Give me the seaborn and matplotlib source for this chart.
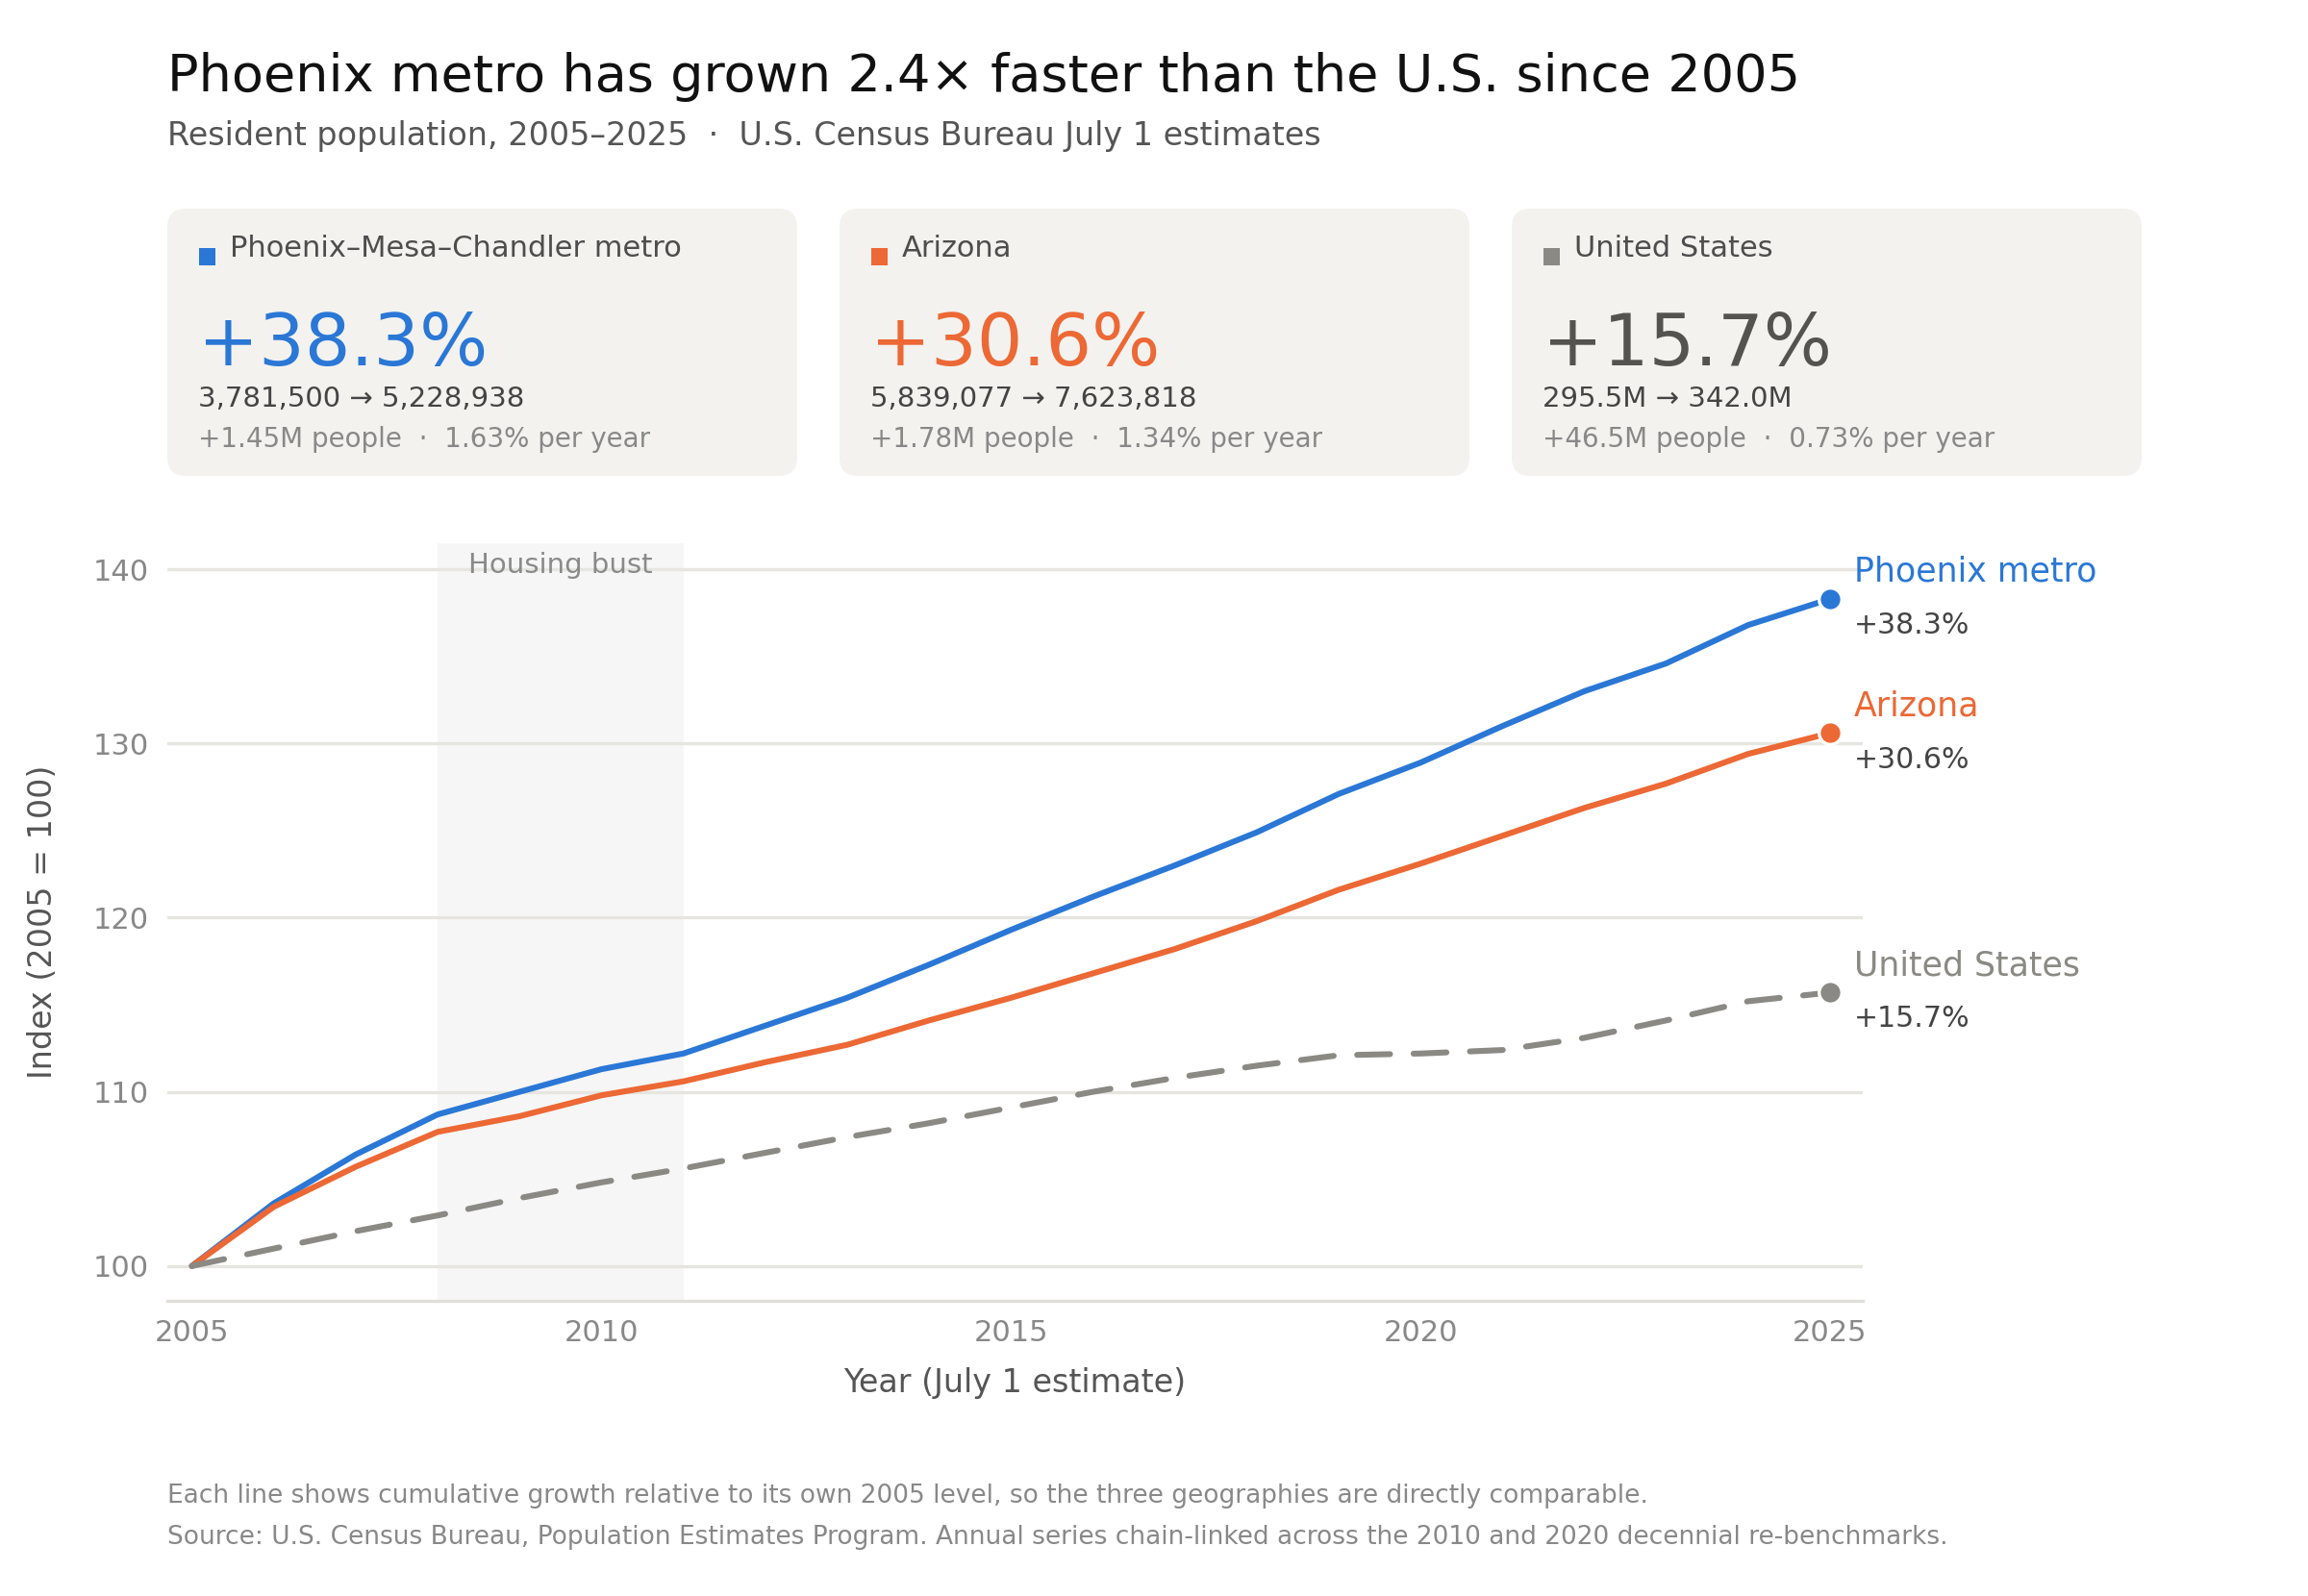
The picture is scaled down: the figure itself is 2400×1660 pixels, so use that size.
import pandas as pd
import matplotlib
matplotlib.use("Agg")
import matplotlib.pyplot as plt
from matplotlib.patches import FancyBboxPatch, Rectangle
import seaborn as sns

# Index values (2005 = 100)
years = list(range(2005, 2026))
phoenix = [100.0, 103.6, 106.4, 108.7, 110.0, 111.3, 112.2, 113.8, 115.4, 117.3, 119.3,
           121.2, 123.0, 124.9, 127.1, 128.9, 131.0, 133.0, 134.6, 136.8, 138.3]
arizona = [100.0, 103.4, 105.7, 107.7, 108.6, 109.8, 110.6, 111.7, 112.7, 114.1, 115.4,
           116.8, 118.2, 119.8, 121.6, 123.1, 124.7, 126.3, 127.7, 129.4, 130.6]
us = [100.0, 101.0, 102.0, 102.9, 103.9, 104.8, 105.6, 106.5, 107.4, 108.2, 109.1,
      110.0, 110.8, 111.5, 112.1, 112.2, 112.4, 113.1, 114.1, 115.2, 115.7]

series_names = ["Phoenix metro", "Arizona", "United States"]
series_colors = ["#2a77d6", "#ec6834", "#8a8984"]
end_pcts = ["+38.3%", "+30.6%", "+15.7%"]

card_titles = ["Phoenix–Mesa–Chandler metro", "Arizona", "United States"]
card_growth = ["+38.3%", "+30.6%", "+15.7%"]
card_growth_colors = ["#2a77d6", "#ec6834", "#55534f"]
card_range = ["3,781,500 → 5,228,938", "5,839,077 → 7,623,818", "295.5M → 342.0M"]
card_detail = ["+1.45M people  ·  1.63% per year",
               "+1.78M people  ·  1.34% per year",
               "+46.5M people  ·  0.73% per year"]

bust_start, bust_end = 2008, 2011

df = pd.DataFrame({
    "year": years * 3,
    "index": phoenix + arizona + us,
    "series": [series_names[0]] * len(years) + [series_names[1]] * len(years)
              + [series_names[2]] * len(years),
})

sns.set_theme(style="white")
plt.rcParams["font.family"] = ["DejaVu Sans"]
plt.rcParams["lines.dash_capstyle"] = "round"

W, H = 2400, 1660
fig = plt.figure(figsize=(12, 8.3), dpi=200)


def fx(x):
    return x / W


def fy(y):
    return 1 - y / H


# title block
fig.text(fx(174), fy(95), "Phoenix metro has grown 2.4× faster than the U.S. since 2005",
         fontsize=19.5, color="#111111", va="baseline")
fig.text(fx(174), fy(151), "Resident population, 2005–2025  ·  U.S. Census Bureau July 1 estimates",
         fontsize=12, color="#555555", va="baseline")

# summary cards
card_left = [174, 873, 1572]
card_w = 655
for i in range(3):
    x0 = card_left[i]
    box = FancyBboxPatch((fx(x0), fy(495)), fx(card_w), (495 - 217) / H,
                         boxstyle="round,pad=0,rounding_size=0.008",
                         mutation_aspect=W / H, transform=fig.transFigure,
                         facecolor="#f3f2ef", edgecolor="none")
    fig.add_artist(box)
    fig.add_artist(Rectangle((fx(x0 + 33), fy(276)), fx(17), 18 / H,
                             transform=fig.transFigure, facecolor=series_colors[i],
                             edgecolor="none"))
    fig.text(fx(x0 + 65), fy(267), card_titles[i], fontsize=11, color="#4d4d4d", va="baseline")
    fig.text(fx(x0 + 32), fy(380), card_growth[i], fontsize=27, color=card_growth_colors[i],
             va="baseline")
    fig.text(fx(x0 + 32), fy(423), card_range[i], fontsize=10.5, color="#444444", va="baseline")
    fig.text(fx(x0 + 32), fy(465), card_detail[i], fontsize=10, color="#888888", va="baseline")

# main chart
ax = fig.add_axes([fx(174), fy(1353), (1937 - 174) / W, (1353 - 565) / H])
ax.axvspan(bust_start, bust_end, color="#f6f6f6", zorder=0, lw=0)
ax.text((bust_start + bust_end) / 2, 141.0, "Housing bust", ha="center", va="top",
        fontsize=10.5, color="#8a8a8a")

sns.lineplot(data=df, x="year", y="index", hue="series", style="series",
             palette=dict(zip(series_names, series_colors)),
             dashes={series_names[0]: "", series_names[1]: "", series_names[2]: (5.6, 4.0)},
             linewidth=2.2, legend=False, ax=ax, zorder=3)

last_vals = [phoenix[-1], arizona[-1], us[-1]]
for name, color, val, pct in zip(series_names, series_colors, last_vals, end_pcts):
    ax.plot([years[-1]], [val], marker="o", ms=8.5, color=color, mec="white", mew=1.2,
            zorder=5, clip_on=False)
    ax.annotate(name, (years[-1], val), xytext=(9, 6.5), textcoords="offset points",
                fontsize=12.5, color=color, va="baseline", ha="left", annotation_clip=False)
    ax.annotate(pct, (years[-1], val), xytext=(9, -13), textcoords="offset points",
                fontsize=10.8, color="#444444", va="baseline", ha="left", annotation_clip=False)

ax.set_xlim(2004.7, 2025.4)
ax.set_ylim(98.0, 141.5)
ax.set_xticks([2005, 2010, 2015, 2020, 2025])
ax.set_yticks([100, 110, 120, 130, 140])
ax.yaxis.grid(True, color="#e6e5e0", lw=1.2)
ax.xaxis.grid(False)
ax.set_axisbelow(True)
for side in ["left", "right", "top"]:
    ax.spines[side].set_visible(False)
ax.spines["bottom"].set_color("#e0dfda")
ax.spines["bottom"].set_linewidth(1.2)
ax.tick_params(axis="both", length=0, labelsize=11, labelcolor="#888888")
ax.tick_params(axis="y", pad=7)
ax.tick_params(axis="x", pad=7)
ax.set_xlabel("Year (July 1 estimate)", fontsize=12, color="#555555")
ax.set_ylabel("Index (2005 = 100)", fontsize=12, color="#555555")
ax.xaxis.set_label_coords(0.5, -0.088)
ax.yaxis.set_label_coords(-0.064, 0.5)

# footer
fig.text(fx(174), fy(1563),
         "Each line shows cumulative growth relative to its own 2005 level, so the three geographies are directly comparable.",
         fontsize=9.5, color="#888888", va="baseline")
fig.text(fx(174), fy(1606),
         "Source: U.S. Census Bureau, Population Estimates Program. Annual series chain-linked across the 2010 and 2020 decennial re-benchmarks.",
         fontsize=9.5, color="#888888", va="baseline")

fig.savefig("out.png", dpi=200, facecolor="white")
